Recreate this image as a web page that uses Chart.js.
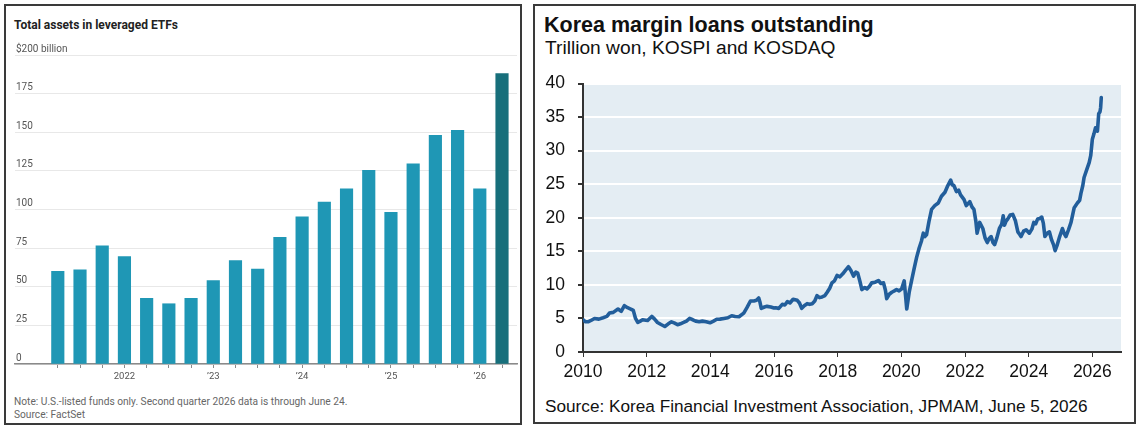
<!DOCTYPE html>
<html>
<head>
<meta charset="utf-8">
<script src="https://cdn.jsdelivr.net/npm/chart.js@4.4.1/dist/chart.umd.min.js"></script>
<style>
  html, body { margin: 0; padding: 0; background: #fff; }
  body { width: 1140px; height: 429px; position: relative; overflow: hidden; }
  .panel { position: absolute; box-sizing: border-box; border: 2px solid #3a3a3a; }
  #leftPanel { left: 4px; top: 4px; width: 518px; height: 421px; }
  #rightPanel { left: 533px; top: 4px; width: 603px; height: 420px; }
  .txt { position: absolute; white-space: nowrap; }
  .wsj { font-family: Roboto, "Noto Sans", sans-serif; }
  .jpm { font-family: "Liberation Sans", Arial, sans-serif; color: #111; }
  canvas { position: absolute; }
  #assetsChart { left: 6px; top: 36px; width: 514px; height: 362px; }
  #loansChart { left: 536px; top: 60px; width: 598px; height: 330px; }
</style>
</head>
<body>
<div class="panel" id="leftPanel"></div>
<div class="panel" id="rightPanel"></div>

<div class="txt wsj" style="left:14px; top:18px; font-size:12px; line-height:14px; font-weight:700; color:#222;">Total assets in leveraged ETFs</div>
<div class="txt wsj" style="left:14px; top:396px; font-size:10.2px; line-height:12px; color:#666;">Note: U.S.-listed funds only. Second quarter 2026 data is through June 24.</div>
<div class="txt wsj" style="left:14px; top:409px; font-size:10.2px; line-height:12px; color:#666;">Source: FactSet</div>

<div class="txt jpm" style="left:544px; top:14px; font-size:21.5px; line-height:22px; font-weight:700;">Korea margin loans outstanding</div>
<div class="txt jpm" style="left:545px; top:37px; font-size:19.2px; line-height:21px;">Trillion won, KOSPI and KOSDAQ</div>
<div class="txt jpm" style="left:545px; top:397px; font-size:17.2px; line-height:19px;">Source: Korea Financial Investment Association, JPMAM, June 5, 2026</div>

<canvas id="assetsChart" width="514" height="362"></canvas>
<canvas id="loansChart" width="598" height="330"></canvas>

<script>
// Left chart: total assets in leveraged ETFs, $ billion, by quarter
const quarters = ['2021 Q2', '2021 Q3', '2021 Q4',
    '2022 Q1', '2022 Q2', '2022 Q3', '2022 Q4',
    '2023 Q1', '2023 Q2', '2023 Q3', '2023 Q4',
    '2024 Q1', '2024 Q2', '2024 Q3', '2024 Q4',
    '2025 Q1', '2025 Q2', '2025 Q3', '2025 Q4',
    '2026 Q1', '2026 Q2'];
const assetValues = [60, 61, 76.5, 69.5, 42.5, 39, 42.5, 54, 67, 61.5, 82,
    95.3, 104.8, 113.3, 125.3, 98.2, 129.6, 148, 151.2, 113.3, 188];
const quarterTickLabels = ['', '', '', '2022', '', '', '', '\u201923', '', '', '',
    '\u201924', '', '', '', '\u201925', '', '', '', '\u201926', ''];
const assetYTicks = [0, 25, 50, 75, 100, 125, 150, 175, 200];

// Right chart: Korea margin loans outstanding, trillion won
const loanYears = [2010.00, 2010.08, 2010.16, 2010.25, 2010.36, 2010.50, 2010.63, 2010.75, 2010.83, 2010.95,
    2011.10, 2011.20, 2011.30, 2011.40, 2011.50, 2011.58, 2011.65, 2011.72, 2011.80, 2011.87,
    2012.03, 2012.16, 2012.25, 2012.34, 2012.45, 2012.57, 2012.68, 2012.78, 2012.88, 2012.97,
    2013.06, 2013.16, 2013.25, 2013.35, 2013.45, 2013.54, 2013.65, 2013.75, 2013.87, 2013.99,
    2014.10, 2014.20, 2014.30, 2014.43, 2014.55, 2014.67, 2014.78, 2014.90, 2015.05, 2015.15,
    2015.26, 2015.37, 2015.45, 2015.52, 2015.56, 2015.60, 2015.70, 2015.78, 2015.90, 2016.00,
    2016.05, 2016.15, 2016.26, 2016.34, 2016.42, 2016.50, 2016.60, 2016.73, 2016.80, 2016.87,
    2016.95, 2017.04, 2017.12, 2017.20, 2017.28, 2017.35, 2017.43, 2017.51, 2017.60, 2017.67,
    2017.75, 2017.82, 2017.90, 2017.98, 2018.07, 2018.16, 2018.25, 2018.34, 2018.42, 2018.50,
    2018.57, 2018.63, 2018.70, 2018.76, 2018.85, 2018.92, 2019.00, 2019.07, 2019.18, 2019.28,
    2019.36, 2019.44, 2019.50, 2019.54, 2019.62, 2019.70, 2019.78, 2019.85, 2019.93, 2020.01,
    2020.09, 2020.13, 2020.17, 2020.25, 2020.32, 2020.40, 2020.48, 2020.56, 2020.63, 2020.69,
    2020.74, 2020.79, 2020.87, 2020.95, 2021.05, 2021.16, 2021.26, 2021.37, 2021.46, 2021.55,
    2021.60, 2021.65, 2021.73, 2021.80, 2021.86, 2021.97, 2022.04, 2022.15, 2022.22, 2022.28,
    2022.34, 2022.38, 2022.46, 2022.56, 2022.63, 2022.70, 2022.76, 2022.82, 2022.88, 2022.93,
    2023.00, 2023.08, 2023.15, 2023.20, 2023.24, 2023.29, 2023.34, 2023.42, 2023.50, 2023.58,
    2023.66, 2023.72, 2023.76, 2023.84, 2023.92, 2024.02, 2024.10, 2024.16, 2024.22, 2024.28,
    2024.35, 2024.41, 2024.46, 2024.51, 2024.58, 2024.65, 2024.72, 2024.78, 2024.83, 2024.90,
    2024.96, 2025.06, 2025.12, 2025.17, 2025.25, 2025.33, 2025.43, 2025.53, 2025.60, 2025.64,
    2025.70, 2025.74, 2025.84, 2025.90, 2025.95, 2026.00, 2026.05, 2026.10, 2026.16, 2026.20,
    2026.24, 2026.26, 2026.28];
const loanValues = [4.8, 4.5, 4.5, 4.7, 5.0, 4.9, 5.1, 5.3, 5.8, 5.9,
    6.4, 6.05, 6.9, 6.6, 6.4, 6.2, 5.0, 4.4, 4.6, 4.8,
    4.7, 5.3, 4.9, 4.4, 4.1, 3.8, 4.2, 4.5, 4.3, 4.06,
    4.2, 4.4, 4.6, 5.0, 4.8, 4.6, 4.5, 4.6, 4.5, 4.35,
    4.6, 4.87, 4.9, 5.0, 5.1, 5.4, 5.3, 5.25, 5.8, 6.6,
    7.6, 7.6, 7.7, 8.05, 7.4, 6.5, 6.7, 6.8, 6.7, 6.55,
    6.6, 6.5, 7.1, 7.0, 7.5, 7.3, 7.86, 7.7, 7.3, 6.5,
    6.9, 7.2, 7.1, 7.2, 7.6, 8.4, 8.1, 8.2, 8.4, 8.9,
    9.5, 10.3, 10.6, 11.4, 11.2, 11.65, 12.2, 12.7, 12.1, 11.3,
    11.9, 11.75, 10.5, 9.3, 9.6, 9.4, 9.8, 10.3, 10.4, 10.65,
    10.2, 10.3, 9.2, 7.95, 8.6, 8.9, 9.1, 9.3, 9.1, 9.4,
    10.6, 8.5, 6.4, 9.0, 10.6, 12.4, 14.1, 15.5, 16.5, 17.7,
    17.2, 17.45, 19.5, 21.25, 21.8, 22.2, 23.2, 23.8, 24.8, 25.6,
    24.9, 24.8, 23.9, 24.1, 23.4, 22.7, 21.8, 22.4, 21.6, 21.25,
    19.5, 17.7, 19.3, 18.4, 17.0, 16.3, 16.9, 17.2, 16.3, 16.0,
    17.0, 18.4, 19.0, 20.3, 18.9, 19.5, 19.8, 20.4, 20.5, 19.6,
    17.9, 17.5, 17.2, 18.0, 18.2, 17.7, 18.3, 19.3, 19.1, 19.8,
    19.9, 20.1, 19.2, 17.2, 17.7, 17.9, 16.7, 16.0, 15.1, 16.0,
    17.0, 18.4, 17.6, 17.2, 18.2, 19.3, 21.5, 22.2, 22.6, 23.6,
    24.8, 26.0, 27.4, 28.2, 29.3, 31.7, 32.5, 33.4, 32.9, 35.5,
    35.8, 36.4, 37.9];
const loanYearTicks = [2010, 2012, 2014, 2016, 2018, 2020, 2022, 2024, 2026];

// Light blue plot background for the right chart
const plotBackground = {
    id: 'plotBackground',
    beforeDraw(chart, args, options) {
        const {ctx, chartArea} = chart;
        ctx.save();
        ctx.fillStyle = options.color;
        ctx.fillRect(chartArea.left, chartArea.top, chartArea.width, chartArea.height);
        ctx.restore();
    }
};

// Left chart: bars on a linear index axis so they sit inside the wider baseline
const assetsChart = new Chart(document.getElementById('assetsChart'), {
    type: 'bar',
    data: {
        datasets: [{
            label: 'Total assets',
            data: assetValues.map((v, i) => ({x: i, y: v})),
            backgroundColor: assetValues.map((v, i) => i === assetValues.length - 1 ? '#176f7b' : '#1f97b5'),
            barThickness: 12.5,
            borderWidth: 0
        }]
    },
    options: {
        responsive: false,
        animation: false,
        layout: {padding: {left: 9, right: 3, top: 19, bottom: 8}},
        plugins: {
            legend: {display: false},
            tooltip: {enabled: false}
        },
        scales: {
            x: {
                type: 'linear',
                min: -1.927,
                max: 20.675,
                offset: false,
                afterBuildTicks: axis => { axis.ticks = quarters.map((q, i) => ({value: i})); },
                afterFit: axis => { axis.height = 26; },
                grid: {display: true, drawOnChartArea: false, drawTicks: true, tickLength: 4, tickColor: '#8a8a8a', offset: false},
                border: {display: true, color: '#8a8a8a', width: 1.5},
                ticks: {
                    autoSkip: false,
                    maxRotation: 0,
                    padding: 3,
                    color: '#555',
                    font: {family: 'Roboto', size: 9.5},
                    callback: value => quarterTickLabels[value] || ''
                }
            },
            y: {
                min: 0,
                max: 200,
                afterBuildTicks: axis => { axis.ticks = assetYTicks.map(v => ({value: v})); },
                afterFit: axis => { axis.width = 0; },
                grid: {color: '#e8e8e8', lineWidth: 1, drawTicks: false},
                border: {display: false},
                ticks: {
                    mirror: true,
                    padding: 1,
                    labelOffset: -6,
                    color: '#555',
                    font: {family: 'Roboto', size: 10},
                    callback: value => value === 200 ? '$200 billion' : String(value)
                }
            }
        }
    }
});

// Right chart: margin loans line
const loansChart = new Chart(document.getElementById('loansChart'), {
    type: 'line',
    data: {
        datasets: [{
            label: 'Margin loans',
            data: loanYears.map((x, i) => ({x: x, y: loanValues[i]})),
            borderColor: '#225e9b',
            borderWidth: 3.6,
            pointRadius: 0,
            tension: 0,
            borderJoinStyle: 'round',
            borderCapStyle: 'round'
        }]
    },
    options: {
        responsive: false,
        animation: false,
        layout: {padding: {left: 0, right: 13, top: 12, bottom: 8}},
        plugins: {
            legend: {display: false},
            tooltip: {enabled: false},
            plotBackground: {color: '#e4edf3'}
        },
        scales: {
            x: {
                type: 'linear',
                min: 2010,
                max: 2026.9,
                afterBuildTicks: axis => { axis.ticks = loanYearTicks.map(v => ({value: v})); },
                afterFit: axis => { axis.height = 30; },
                grid: {display: true, drawOnChartArea: false, drawTicks: true, tickLength: 5, tickColor: '#333'},
                border: {display: true, color: '#333', width: 2},
                ticks: {
                    autoSkip: false,
                    maxRotation: 0,
                    padding: 5,
                    color: '#111',
                    font: {family: 'Liberation Sans', size: 17.5},
                    callback: value => String(value)
                }
            },
            y: {
                min: 0,
                max: 40,
                ticks: {
                    stepSize: 5,
                    padding: 13,
                    color: '#111',
                    font: {family: 'Liberation Sans', size: 17.5}
                },
                afterFit: axis => { axis.width = 47; },
                grid: {color: '#ffffff', lineWidth: 2, tickLength: 5, tickColor: '#333'},
                border: {display: true, color: '#333', width: 2}
            }
        }
    },
    plugins: [plotBackground]
});
</script>
</body>
</html>
